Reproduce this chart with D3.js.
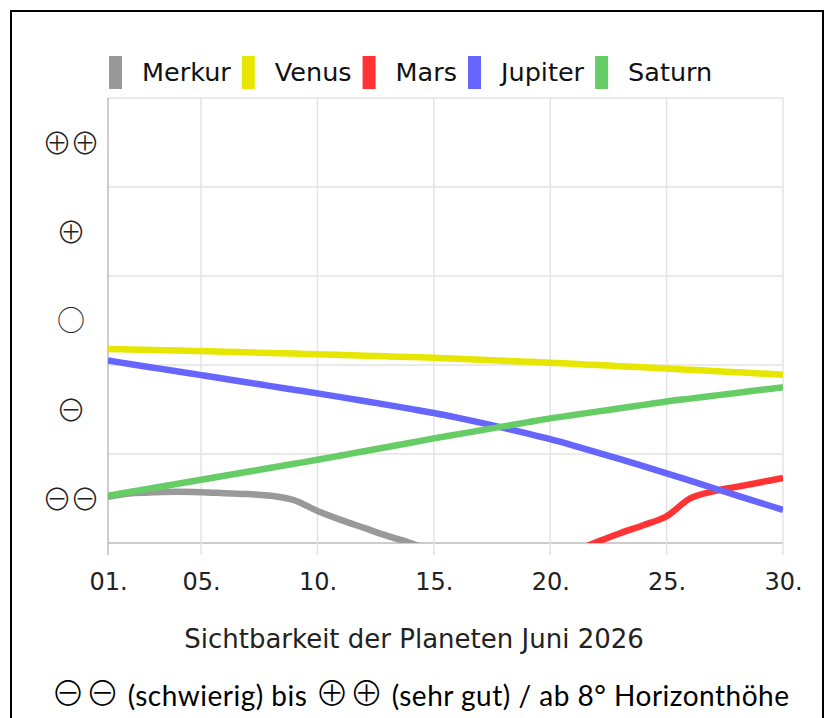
<!DOCTYPE html>
<html>
<head>
<meta charset="utf-8">
<script src="https://cdn.jsdelivr.net/npm/d3@7"></script>
<style>
  body { margin: 0; background: #fff; }
  text { font-family: "DejaVu Sans", Verdana, sans-serif; }
  .sym { font-family: "Noto Sans CJK JP", "DejaVu Sans", sans-serif; font-weight: 300; }
</style>
</head>
<body>
<svg id="chart"></svg>
<script>
var w_svg = 830; // canvas size
var h_svg = 718;

// Data (1 = ⊖⊖ ... 5 = ⊕⊕)
var days = d3.range(1, 31);
var planets = ["Merkur", "Venus", "Mars", "Jupiter", "Saturn"];
var colors = ["#999999", "#e6e600", "#ff3333", "#6666ff", "#66cc66"];
var merkur = [1.02, 1.06, 1.07, 1.075, 1.07, 1.06, 1.05, 1.03, 0.98, 0.86,
              0.76, 0.67, 0.58, 0.50, 0.41, null, null, null, null, null,
              null, null, null, null, null, null, null, null, null, null];
var venus = [2.680, 2.674, 2.668, 2.662, 2.656, 2.649, 2.642, 2.635, 2.628, 2.621,
             2.613, 2.605, 2.597, 2.589, 2.581, 2.570, 2.559, 2.548, 2.537, 2.526,
             2.513, 2.500, 2.487, 2.474, 2.461, 2.447, 2.433, 2.419, 2.405, 2.391];
var mars = [null, null, null, null, null, null, null, null, null, null,
            null, null, null, null, null, null, null, null, null, null,
            0.40, 0.51, 0.61, 0.70, 0.80, 1.00, 1.08, 1.13, 1.18, 1.23];
var jupiter = [2.550, 2.509, 2.468, 2.427, 2.386, 2.345, 2.304, 2.263, 2.222, 2.181,
               2.139, 2.096, 2.052, 2.007, 1.961, 1.909, 1.853, 1.794, 1.732, 1.666,
               1.594, 1.519, 1.442, 1.363, 1.282, 1.200, 1.118, 1.036, 0.954, 0.872];
var saturn = [1.030, 1.075, 1.120, 1.165, 1.210, 1.255, 1.300, 1.345, 1.390, 1.435,
              1.483, 1.531, 1.579, 1.627, 1.675, 1.720, 1.765, 1.810, 1.855, 1.900,
              1.938, 1.976, 2.014, 2.052, 2.090, 2.122, 2.154, 2.186, 2.218, 2.250];
var series = [merkur, venus, mars, jupiter, saturn];

var x_ticks = [1, 5, 10, 15, 20, 25, 30];
var y_levels = [1, 2, 3, 4, 5];
var y_labels = ["⊖⊖", "⊖", "○", "⊕", "⊕⊕"];
var subtitle = "Sichtbarkeit der Planeten Juni 2026";
// caption pieces: [text, isSymbol]
var caption = [["⊖⊖", true], [" (schwierig) bis ", false], ["⊕⊕", true],
               [" (sehr gut) / ab 8° Horizonthöhe", false]];

// Plot box
var p_left = 108, p_right = 783, p_top = 98, p_bottom = 543;

var x = d3.scaleLinear().domain([1, 30]).range([p_left, p_right]);
var y = d3.scaleLinear().domain([0.5, 5.5]).range([p_bottom, p_top]);

var svg = d3.select("#chart").attr("width", w_svg).attr("height", h_svg);

// Outer frame
svg.append("rect")
  .attr("x", 11).attr("y", 11)
  .attr("width", 812).attr("height", 720)
  .attr("fill", "none").attr("stroke", "#000").attr("stroke-width", 2);

// Grid
var grid = svg.append("g").attr("class", "grid");
grid.selectAll("line.h").data(d3.range(0.5, 6, 1)).enter().append("line")
  .attr("class", "h")
  .attr("x1", p_left).attr("x2", p_right)
  .attr("y1", function(d) { return y(d); }).attr("y2", function(d) { return y(d); })
  .attr("stroke", function(d) { return d == 0.5 ? "#bbbbbb" : "#e3e3e3"; })
  .attr("stroke-width", 1.5);
grid.selectAll("line.v").data(x_ticks).enter().append("line")
  .attr("class", "v")
  .attr("x1", function(d) { return x(d); }).attr("x2", function(d) { return x(d); })
  .attr("y1", p_top).attr("y2", p_bottom + 12)
  .attr("stroke", function(d, i) { return i == 0 ? "#bbbbbb" : "#e3e3e3"; })
  .attr("stroke-width", 1.5);

// X axis labels
var xAxis = d3.axisBottom(x).tickValues(x_ticks).tickSize(0).tickPadding(30)
  .tickFormat(function(d) { return (d < 10 ? "0" : "") + d + "."; });
var gx = svg.append("g").attr("transform", "translate(0," + p_bottom + ")").call(xAxis);
gx.select(".domain").remove();
gx.selectAll("text").attr("font-size", 24).attr("fill", "#222")
  .style("font-family", "'DejaVu Sans', sans-serif");

// Y labels (centred in their bands)
svg.append("g").selectAll("text").data(y_levels).enter().append("text")
  .attr("class", "sym")
  .attr("x", 70)
  .attr("y", function(d) { return y(d); })
  .attr("dy", "0.38em")
  .attr("text-anchor", "middle")
  .attr("font-size", function(d, i) { return y_labels[i] == "○" ? 28 : 30; })
  .attr("letter-spacing", -2)
  .attr("fill", "#222")
  .text(function(d, i) { return y_labels[i]; });

// Lines
svg.append("clipPath").attr("id", "plotclip").append("rect")
  .attr("x", p_left).attr("y", p_top)
  .attr("width", p_right - p_left).attr("height", p_bottom - p_top);

var line = d3.line()
  .defined(function(d) { return d != null; })
  .x(function(d, i) { return x(days[i]); })
  .y(function(d) { return y(d); })
  .curve(d3.curveMonotoneX);

svg.append("g").attr("clip-path", "url(#plotclip)")
  .selectAll("path").data(series).enter().append("path")
  .attr("d", function(d) { return line(d); })
  .attr("fill", "none")
  .attr("stroke", function(d, i) { return colors[i]; })
  .attr("stroke-width", 6.5);

// Legend
var legend = svg.append("g").attr("class", "legend");
var cursor = 109;
planets.forEach(function(name, i) {
  legend.append("rect")
    .attr("x", cursor).attr("y", 56)
    .attr("width", 13).attr("height", 33)
    .attr("fill", colors[i]);
  var t = legend.append("text")
    .attr("x", cursor + 33).attr("y", 81)
    .attr("font-size", 25.5).attr("fill", "#111")
    .text(name);
  cursor = cursor + 33 + t.node().getComputedTextLength() + 11;
});

// Subtitle and caption
svg.append("text")
  .attr("x", 414).attr("y", 648)
  .attr("text-anchor", "middle")
  .attr("font-size", 26).attr("fill", "#222")
  .text(subtitle);
var cap = svg.append("text")
  .attr("x", 51).attr("y", 706)
  .attr("font-size", 28).attr("fill", "#000")
  .attr("textLength", 738).attr("lengthAdjust", "spacing")
  .style("font-family", "Lato, 'Open Sans', sans-serif");
caption.forEach(function(c) {
  var ts = cap.append("tspan").text(c[0]);
  if (c[1]) ts.attr("class", "sym").attr("font-size", 34);
});
</script>
</body>
</html>
